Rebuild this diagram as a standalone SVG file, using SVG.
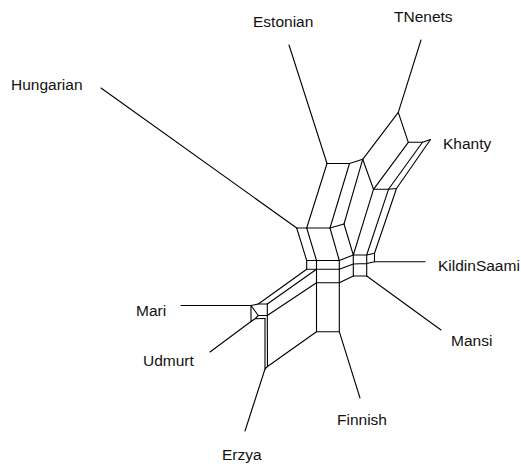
<svg xmlns="http://www.w3.org/2000/svg" width="521" height="464" viewBox="0 0 521 464">
<style>
.e{stroke:#000;stroke-width:1.1;fill:none;stroke-linecap:round;stroke-linejoin:round}
.t{font-family:"Liberation Sans",Arial,sans-serif;font-size:15.5px;fill:#111}
</style>
<rect width="521" height="464" fill="#fff"/>
<g id="connectors" class="e">
<!-- terminal edges -->
<path d="M289,45 L327,163.5"/>
<path d="M421,40 L398.3,112.3"/>
<path d="M101,88 L296.7,228"/>
<path d="M422.5,142.3 L430.5,139.5"/>
<path d="M374.5,261.7 L425,261.7"/>
<path d="M366.7,276 L441,330"/>
<path d="M339.3,331.7 L360,398"/>
<path d="M265,369 L245,431"/>
<path d="M251,321.5 L210,352"/>
<path d="M181,305.5 L251,305.5"/>
<!-- upper part -->
<path d="M327,163.5 L349.5,163.5 L362.7,159.3 L398.3,112.3 L408.3,142.3 L422.5,142.3"/>
<path d="M408.3,142.3 L373.5,189.3 M422.5,142.3 L388.5,189.3 M430.5,139.5 L396.5,188.5"/>
<path d="M362.7,159.3 L373.5,189.3 L388.5,189.3 L396.5,188.5"/>
<!-- middle -->
<path d="M296.7,228 L306.7,228 L330,228 L344,224"/>
<path d="M327,163.5 L306.7,228 M349.5,163.5 L330,228 M362.7,159.3 L344,224"/>
<path d="M296.7,228 L306.7,260.5 M306.7,228 L316.5,260.5 M330,228 L339.3,260.5"/>
<path d="M306.7,260.5 L339.3,260.5 L339.3,269.3 L306.7,269.3 Z M316.5,260.5 L316.5,269.3"/>
<!-- KildinSaami box -->
<path d="M344,224 L353.3,255 M373.5,189.3 L353.3,255 M388.5,189.3 L366.7,255 M396.5,188.5 L374.5,253.3"/>
<path d="M353.3,255 L366.7,255 L374.5,253.3 L374.5,261.7 L366.7,263.5 L353.3,264 M353.3,255 L353.3,276 L366.7,276 L366.7,255"/>
<path d="M339.3,260.5 L353.3,255 M339.3,269.3 L353.3,264"/>
<!-- lower -->
<path d="M316.5,269.3 L316.5,331.7 L339.3,331.7 L339.3,269.3 M316.5,282.7 L339.3,282.7 L353.3,276"/>
<path d="M316.5,331.7 L267.5,366.5"/>
<!-- Mari / Udmurt / Erzya -->
<path d="M306.7,269.3 L258.3,304 M316.5,269.3 L267.3,304 M316.5,282.7 L267.3,315.5"/>
<path d="M251,305.5 L258.3,304 L267.3,304 L267.3,315.5 L258.3,315.5 Z"/>
<path d="M251,305.5 L251,321.5 L255,318.8 L265,318.5 M255,318.8 L258.3,315.5"/>
<path d="M265,318.5 L265,369 L267.5,366.5 L267.3,315.5"/>
</g>
<g id="Estonian"><text class="t" x="253" y="27">Estonian</text></g>
<g id="TNenets"><text class="t" x="394" y="22">TNenets</text></g>
<g id="Hungarian"><text class="t" x="11" y="90">Hungarian</text></g>
<g id="Khanty"><text class="t" x="443" y="149">Khanty</text></g>
<g id="KildinSaami"><text class="t" x="438" y="271">KildinSaami</text></g>
<g id="Mansi"><text class="t" x="451" y="345.5">Mansi</text></g>
<g id="Finnish"><text class="t" x="337" y="425">Finnish</text></g>
<g id="Erzya"><text class="t" x="222" y="459.5">Erzya</text></g>
<g id="Udmurt"><text class="t" x="143" y="366">Udmurt</text></g>
<g id="Mari"><text class="t" x="136" y="315.5">Mari</text></g>
</svg>
